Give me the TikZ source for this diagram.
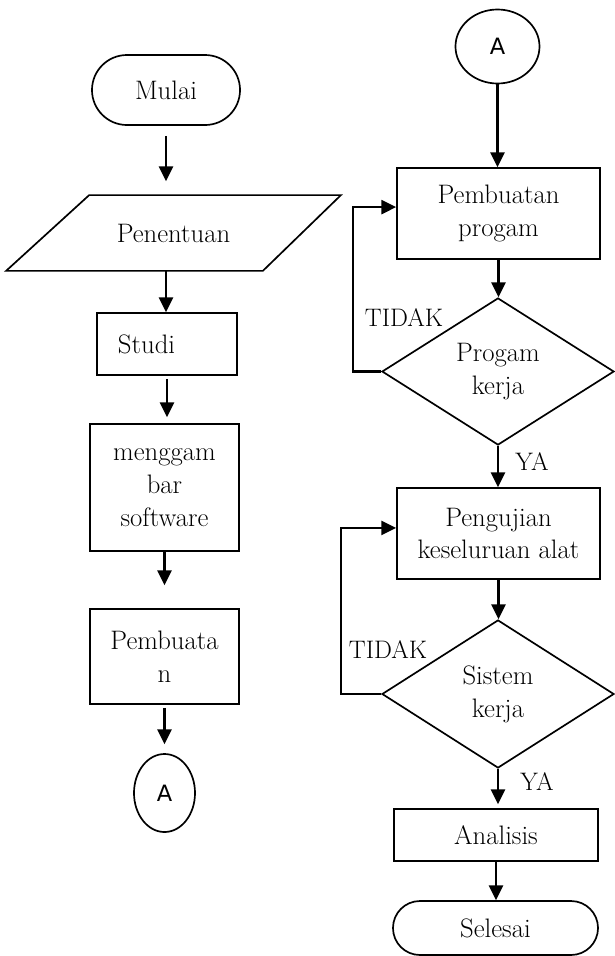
\documentclass[tikz,border=0pt]{standalone}
\usepackage{fontspec}
\newfontfamily\circfont{DejaVu Sans}
\usetikzlibrary{shapes.geometric,shapes.misc,arrows.meta}

\begin{document}
\begin{tikzpicture}[x=0.025cm, y=-0.025cm,
    box/.style={draw, line width=1.2pt, align=center, inner sep=0pt,
        font=\fontsize{19}{23.4}\selectfont},
    term/.style={box, rounded rectangle},
    decision/.style={box, diamond, aspect=1.58},
    conn/.style={draw, ellipse, line width=1.2pt, inner sep=0pt,
        font=\circfont\fontsize{16}{19}\selectfont},
    flow/.style={line width=1.6pt, -{Triangle[length=10.5pt, width=10pt]}},
    lbl/.style={inner sep=0pt, font=\fontsize{18}{20}\selectfont}]

    \useasboundingbox (0,0) rectangle (614,956);

    % Left column
    \node[term, minimum width=3.7cm, minimum height=1.75cm] (mulai) at (166,90) {Mulai};
    \node[box, draw=none, minimum width=8.325cm, minimum height=1.85cm]
        (penentuan) at (173.5,233) {Penentuan};
    \draw[line width=1.2pt] ([xshift=2.075cm]penentuan.north west) -- (penentuan.north east)
        -- ([xshift=-1.95cm]penentuan.south east) -- (penentuan.south west) -- cycle;
    \node[box, align=left, text width=2.45cm, inner xsep=0.525cm, minimum height=1.55cm]
        (studi) at (167,344) {Studi};
    \node[box, minimum width=3.725cm, minimum height=3.175cm] (gambar) at (164.5,487.5) {menggam\\bar\\software};
    \node[box, minimum width=3.725cm, minimum height=2.375cm] (buat) at (164.5,656.5) {Pembuata\\n};
    \node[conn, minimum width=1.525cm, minimum height=1.95cm] (konA) at (164.5,793) {A};

    \draw[flow, shorten <=0.25cm, shorten >=0.35cm] (mulai.south) -- (mulai.south |- penentuan.north);
    \draw[flow] (penentuan.south -| mulai.south) -- (studi.north -| mulai.south);
    \draw[flow, shorten <=0.075cm, shorten >=0.15cm] (studi.south) -- (studi.south |- gambar.north);
    \draw[flow, shorten >=0.575cm] (gambar.south) -- (buat.north);
    \draw[flow, shorten <=0.075cm, shorten >=0.225cm] (buat.south) -- (konA.north);

    % Right column
    \node[conn, minimum width=2.1cm, minimum height=1.85cm] (konB) at (497.5,46.5) {A};
    \node[box, minimum width=5.075cm, minimum height=2.275cm] (program) at (498.5,213.5) {Pembuatan\\progam};
    \node[decision, minimum width=5.8cm, minimum height=3.675cm] (cek1) at (498,371.5) {Progam\\kerja};
    \node[box, minimum width=5.075cm, minimum height=2.275cm] (uji) at (498.5,533.5) {Pengujian\\keseluruan alat};
    \node[decision, minimum width=5.8cm, minimum height=3.7cm] (cek2) at (498,694) {Sistem\\kerja};
    \node[box, minimum width=5.1cm, minimum height=1.3cm] (analisis) at (496,835) {Analisis};
    \node[term, minimum width=5.125cm, minimum height=1.35cm] (selesai) at (495.5,928) {Selesai};

    \node[lbl] (tidak1) at (404,318) {TIDAK};
    \node[lbl] (ya1) at (532,462) {YA};
    \node[lbl] (tidak2) at (388,650) {TIDAK};
    \node[lbl] (ya2) at (537,782) {YA};

    \draw[flow] (konB.south) -- (konB.south |- program.north);
    \draw[flow] (program.south) -- (program.south |- cek1.north);
    \draw[flow] (cek1.west) -- ++(-28,0) |- ([yshift=0.16cm]program.west);
    \draw[flow] (cek1.south) -- (cek1.south |- uji.north);
    \draw[flow] (uji.south) -- (uji.south |- cek2.north);
    \draw[flow] (cek2.west) -- ++(-40,0) |- ([yshift=0.14cm]uji.west);
    \draw[flow, shorten >=0.1cm] (cek2.south) -- (cek2.south |- analisis.north);
    \draw[flow] (analisis.south) -- (analisis.south |- selesai.north);
\end{tikzpicture}
\end{document}
